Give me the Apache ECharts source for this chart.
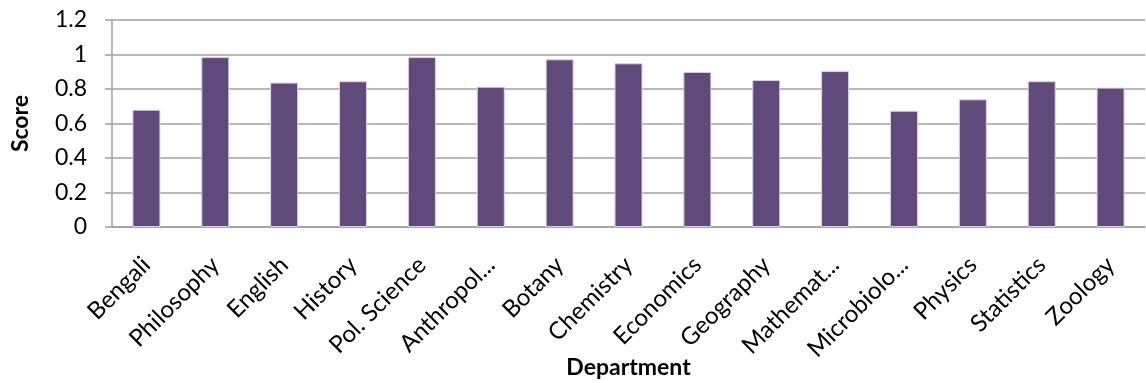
<!DOCTYPE html>
<html>
<head>
<meta charset="utf-8">
<script src="https://cdn.jsdelivr.net/npm/echarts@6/dist/echarts.min.js"></script>
<style>
  html, body { margin: 0; padding: 0; background: #fff; }
  #main { width: 1146px; height: 383px; }
</style>
</head>
<body>
<div id="main"></div>
<script>
var departments = ['Bengali', 'Philosophy', 'English', 'History', 'Pol. Science', 'Anthropol...',
  'Botany', 'Chemistry', 'Economics', 'Geography', 'Mathemat...', 'Microbiolo...',
  'Physics', 'Statistics', 'Zoology'];
var scores = [0.68, 0.985, 0.837, 0.845, 0.985, 0.813, 0.972, 0.949, 0.899, 0.852,
  0.904, 0.674, 0.74, 0.845, 0.808];
var scoreTicks = [0, 0.2, 0.4, 0.6, 0.8, 1, 1.2];

var chartDom = document.getElementById('main');
var myChart = echarts.init(chartDom);
var option;

var font = 'Lato, "Open Sans", sans-serif';

option = {
  animation: false,
  textStyle: { fontFamily: font },
  grid: {
    left: 112,
    right: 1,
    top: 20,
    bottom: 156,
    containLabel: false,
    outerBoundsMode: 'none'
  },
  xAxis: {
    type: 'category',
    data: departments,
    name: 'Department',
    nameLocation: 'middle',
    nameGap: 129,
    nameMoveOverlap: false,
    nameTextStyle: { fontFamily: font, fontSize: 23, fontWeight: 'bold', color: '#000' },
    axisLine: { lineStyle: { color: '#a0a0a0', width: 1.5 } },
    axisTick: { show: false },
    axisLabel: {
      rotate: 45,
      interval: 0,
      margin: 34,
      fontFamily: font,
      fontSize: 24,
      color: '#000'
    }
  },
  yAxis: {
    type: 'value',
    min: scoreTicks[0],
    max: scoreTicks[scoreTicks.length - 1],
    interval: 0.2,
    name: 'Score',
    nameLocation: 'middle',
    nameGap: 80,
    nameRotate: 90,
    nameMoveOverlap: false,
    nameTextStyle: { fontFamily: font, fontSize: 23, fontWeight: 'bold', color: '#000' },
    axisLine: { show: true, lineStyle: { color: '#a0a0a0', width: 1.5 } },
    axisTick: { show: true, length: 7, lineStyle: { color: '#a0a0a0', width: 1.5 } },
    splitLine: { lineStyle: { color: '#a0a0a0', width: 1.5 } },
    axisLabel: {
      margin: 25,
      fontFamily: font,
      fontSize: 23,
      color: '#000',
      formatter: function (v) { return String(Math.round(v * 10) / 10); }
    }
  },
  series: [
    {
      name: 'Score',
      type: 'bar',
      data: scores,
      barWidth: 28,
      itemStyle: {
        color: '#604a7b',
        borderColor: '#d9d2e3',
        borderWidth: 1
      }
    }
  ]
};

option && myChart.setOption(option);
</script>
</body>
</html>
